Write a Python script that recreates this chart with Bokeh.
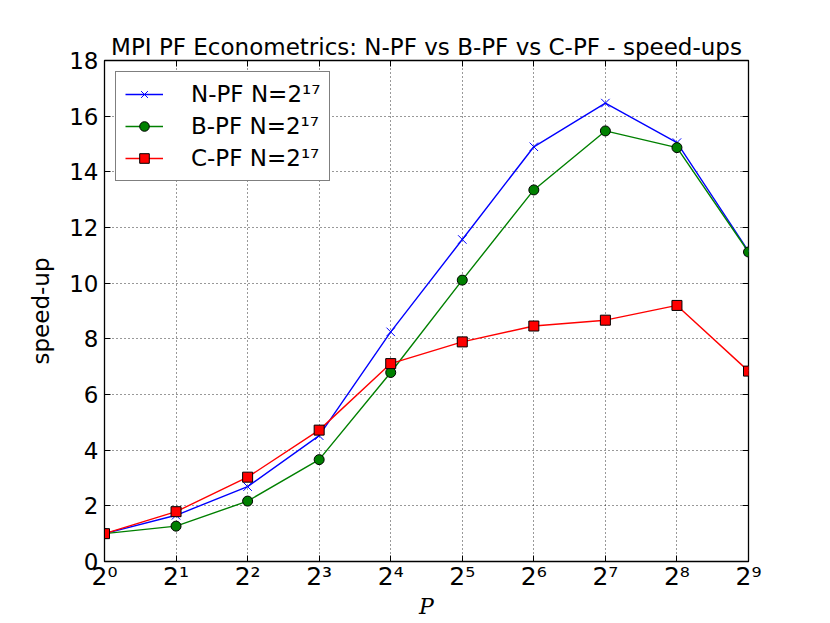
from bokeh.plotting import figure
from bokeh.models import (Range1d, FixedTicker, CustomJSTickFormatter, LogAxis, LinearAxis,
                          Legend, LegendItem, ColumnDataSource)
from bokeh.embed import file_html
from bokeh.resources import INLINE

# ---- data ----
P = [1, 2, 4, 8, 16, 32, 64, 128, 256, 512]
npf = [1.0, 1.66, 2.69, 4.52, 8.25, 11.57, 14.9, 16.47, 15.05, 11.15]
bpf = [1.0, 1.27, 2.17, 3.66, 6.79, 10.11, 13.35, 15.47, 14.87, 11.12]
cpf = [1.0, 1.79, 3.03, 4.72, 7.11, 7.89, 8.46, 8.67, 9.2, 6.84]
labels = ["N-PF N=2¹⁷", "B-PF N=2¹⁷", "C-PF N=2¹⁷"]
x_ticks = [1, 2, 4, 8, 16, 32, 64, 128, 256, 512]
y_ticks = [0, 2, 4, 6, 8, 10, 12, 14, 16, 18]
title = "MPI PF Econometrics: N-PF vs B-PF vs C-PF - speed-ups"

FONT = "DejaVu Sans"

p = figure(width=810, height=622, x_axis_type="log",
           x_range=Range1d(1, 512), y_range=Range1d(0, 18),
           output_backend="svg", toolbar_location=None,
           min_border_left=104, min_border_right=62, min_border_top=60, min_border_bottom=61)
p.title.text = title
p.title.align = "center"
p.title.text_font = FONT
p.title.text_font_size = "23px"
p.title.text_font_style = "normal"
p.title.text_color = "black"
p.title.standoff = 2

fmt = CustomJSTickFormatter(code="""
const sup = {'0':'\u2070','1':'\u00b9','2':'\u00b2','3':'\u00b3','4':'\u2074','5':'\u2075','6':'\u2076','7':'\u2077','8':'\u2078','9':'\u2079'};
const e = Math.round(Math.log2(tick));
return '2' + String(e).split('').map(c => sup[c]).join('');
""")
blank = CustomJSTickFormatter(code="return '';")

xt = FixedTicker(ticks=x_ticks, minor_ticks=[])
yt = FixedTicker(ticks=y_ticks, minor_ticks=[])

for ax in p.xaxis:
    ax.ticker = xt
    ax.formatter = fmt
    ax.axis_label = "P"
    ax.axis_label_text_font = "DejaVu Serif"
    ax.axis_label_text_font_style = "italic"
    ax.axis_label_text_font_size = "22px"
    ax.axis_label_standoff = 0
    ax.major_label_text_font = FONT
    ax.major_label_text_font_size = "25px"
    ax.major_label_standoff = 0
for ax in p.yaxis:
    ax.ticker = yt
    ax.axis_label = "speed-up"
    ax.axis_label_text_font = FONT
    ax.axis_label_text_font_style = "normal"
    ax.axis_label_text_font_size = "23px"
    ax.axis_label_standoff = 12
    ax.major_label_text_font = FONT
    ax.major_label_text_font_size = "23px"
    ax.major_label_standoff = 6
for ax in list(p.xaxis) + list(p.yaxis):
    ax.major_tick_in = 6
    ax.major_tick_out = 0
    ax.minor_tick_line_color = None
    ax.axis_line_color = "black"
    ax.major_label_text_color = "black"
    ax.axis_label_text_color = "black"

top = LogAxis(ticker=xt, formatter=blank, major_tick_in=6, major_tick_out=0,
              minor_tick_line_color=None, axis_line_color=None)
right = LinearAxis(ticker=yt, formatter=blank, major_tick_in=6, major_tick_out=0,
                   minor_tick_line_color=None, axis_line_color=None)
p.add_layout(top, "above")
p.add_layout(right, "right")

p.outline_line_color = "black"
p.outline_line_width = 1.3
p.grid.grid_line_color = "black"
p.grid.grid_line_dash = "1 3"
p.grid.grid_line_width = 1
p.grid.grid_line_alpha = 0.8
p.xgrid.ticker = xt
p.ygrid.ticker = yt

src = ColumnDataSource(dict(P=P, npf=npf, bpf=bpf, cpf=cpf))

l1 = p.line("P", "npf", source=src, line_color="#0000ff", line_width=1.4)
m1 = p.scatter("P", "npf", source=src, marker="x", size=12, line_color="#0000ff", line_width=1)
l2 = p.line("P", "bpf", source=src, line_color="#008000", line_width=1.4)
m2 = p.scatter("P", "bpf", source=src, marker="circle", size=10, fill_color="#008000", line_color="black", line_width=1)
l3 = p.line("P", "cpf", source=src, line_color="#ff0000", line_width=1.4)
m3 = p.scatter("P", "cpf", source=src, marker="square", size=10, fill_color="#ff0000", line_color="black", line_width=1)

legend = Legend(items=[LegendItem(label=labels[0], renderers=[l1, m1]),
                       LegendItem(label=labels[1], renderers=[l2, m2]),
                       LegendItem(label=labels[2], renderers=[l3, m3])],
                location="top_left")
legend.margin = 11
legend.padding = 9
legend.spacing = 6
legend.glyph_width = 38
legend.glyph_height = 24
legend.label_height = 24
legend.label_standoff = 28
legend.label_text_font = FONT
legend.label_text_font_size = "23px"
legend.label_text_color = "black"
legend.border_line_color = "black"
legend.border_line_width = 1.3
legend.background_fill_alpha = 1
p.add_layout(legend)

open("out.html", "w").write(file_html(p, INLINE))
